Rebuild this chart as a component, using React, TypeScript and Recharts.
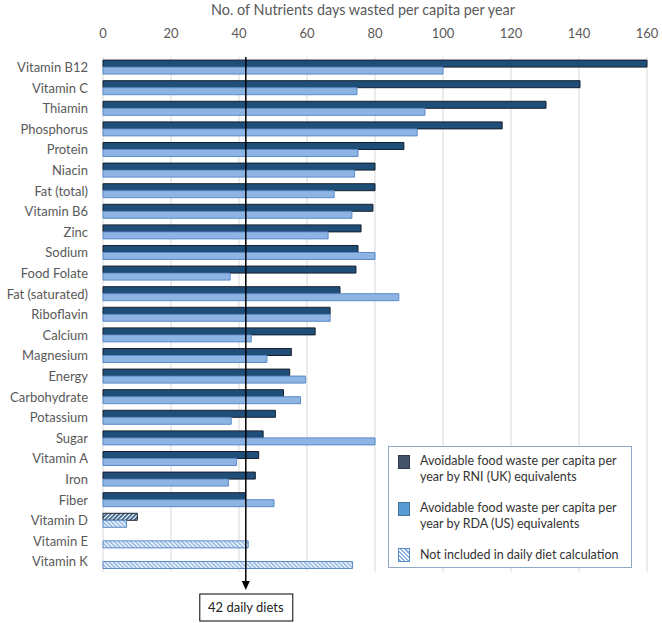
// App.tsx
// Horizontal bar chart: nutrient days wasted per capita per year (RNI vs RDA)

import {
  BarChart,
  Bar,
  XAxis,
  YAxis,
  CartesianGrid,
  ReferenceLine,
  Cell,
} from 'recharts'

// =============================================================================
// Data
// =============================================================================

const nutrients = [
  'Vitamin B12', 'Vitamin C', 'Thiamin', 'Phosphorus', 'Protein', 'Niacin',
  'Fat (total)', 'Vitamin B6', 'Zinc', 'Sodium', 'Food Folate', 'Fat (saturated)',
  'Riboflavin', 'Calcium', 'Magnesium', 'Energy', 'Carbohydrate', 'Potassium',
  'Sugar', 'Vitamin A', 'Iron', 'Fiber', 'Vitamin D', 'Vitamin E', 'Vitamin K',
]

// RNI (UK) equivalents – dark bars
const rniDays = [
  160, 140.3, 130.3, 117.4, 88.5, 80, 80, 79.4, 75.9, 75, 74.4, 69.7,
  66.8, 62.4, 55.4, 54.9, 53.1, 50.7, 47.1, 45.8, 44.8, 41.9, 10.1, null, null,
]

// RDA (US) equivalents – light bars
const rdaDays = [
  100, 74.7, 94.7, 92.4, 75, 74, 68, 73.2, 66.2, 80, 37.4, 87,
  66.8, 43.6, 48.2, 59.6, 58.1, 37.7, 80, 39.3, 36.9, 50.3, 6.9, 42.7, 73.4,
]

// Not included in the daily diet calculation (hatched)
const notIncluded = ['Vitamin D', 'Vitamin E', 'Vitamin K']

const xTicks = [0, 20, 40, 60, 80, 100, 120, 140, 160]
const dailyDiets = 42

// =============================================================================
// Constants
// =============================================================================

const DARK = '#1f4e79'
const DARK_STROKE = '#17202e'
const LIGHT = '#8db4e2'
const LIGHT_STROKE = '#5b8ac8'
const TEXT = '#595959'
const FONT = 'Lato, "Open Sans", sans-serif'

const data = nutrients.map((name, i) => ({
  name,
  rni: rniDays[i],
  rda: rdaDays[i],
  hatched: notIncluded.includes(name),
}))

// =============================================================================
// Sub-Components
// =============================================================================

function DietLine(props: any) {
  const { x1, y1, y2 } = props
  const top = Math.min(y1, y2)
  const tip = 590
  return (
    <g>
      <line x1={x1} y1={top} x2={x1} y2={tip - 6} stroke="#000" strokeWidth={1.5} />
      <polygon points={`${x1 - 4},${tip - 9} ${x1 + 4},${tip - 9} ${x1},${tip}`} fill="#000" />
      <rect x={x1 - 46} y={594} width={93} height={27} fill="#fff" stroke="#000" strokeWidth={1} />
      <text x={x1} y={612} textAnchor="middle" fontSize={13} fill="#222" fontFamily={FONT}>
        {dailyDiets} daily diets
      </text>
    </g>
  )
}

function LegendBox() {
  const marker = (bg: string, border: string): React.CSSProperties => ({
    position: 'absolute',
    left: 9,
    width: 12,
    height: 14,
    background: bg,
    border: `1px solid ${border}`,
    boxSizing: 'border-box',
  })
  const label: React.CSSProperties = {
    position: 'absolute',
    left: 31,
    fontSize: 12.5,
    lineHeight: '16px',
    color: '#333',
    whiteSpace: 'nowrap',
  }
  return (
    <div
      style={{
        position: 'absolute',
        left: 388,
        top: 446,
        width: 244,
        height: 122,
        border: '1px solid #8ea8c8',
        background: '#fff',
        boxSizing: 'border-box',
        fontFamily: FONT,
      }}
    >
      <div style={{ ...marker('#44546a', '#2f3b4c'), top: 8 }} />
      <div style={{ ...label, top: 6 }}>
        Avoidable food waste per capita per<br />year by RNI (UK) equivalents
      </div>
      <div style={{ ...marker('#5b9bd5', '#41719c'), top: 55 }} />
      <div style={{ ...label, top: 53 }}>
        Avoidable food waste per capita per<br />year by RDA (US) equivalents
      </div>
      <div
        style={{
          ...marker('', '#5b8ac8'),
          top: 101,
          background:
            'repeating-linear-gradient(45deg, #8db4e2 0px, #8db4e2 1.5px, #ffffff 1.5px, #ffffff 3px)',
        }}
      />
      <div style={{ ...label, top: 100 }}>Not included in daily diet calculation</div>
    </div>
  )
}

// =============================================================================
// Main Component
// =============================================================================

export default function App() {
  return (
    <div
      style={{
        position: 'absolute',
        left: 0,
        top: 0,
        width: 662,
        height: 623,
        background: '#fff',
        fontFamily: FONT,
      }}
    >
      <div
        style={{
          position: 'absolute',
          left: 0,
          width: 726,
          top: 1,
          textAlign: 'center',
          fontSize: 14.4,
          color: TEXT,
        }}
      >
        No. of Nutrients days wasted per capita per year
      </div>
      <BarChart
        width={662}
        height={623}
        data={data}
        layout="vertical"
        margin={{ top: 20, right: 15, left: 0, bottom: 51 }}
        barCategoryGap="15%"
        barGap={0}
      >
        <defs>
          <pattern id="hatchDark" patternUnits="userSpaceOnUse" width="3" height="3" patternTransform="rotate(45)">
            <rect width="3" height="3" fill="#ffffff" />
            <rect width="1.6" height="3" fill={DARK} />
          </pattern>
          <pattern id="hatchLight" patternUnits="userSpaceOnUse" width="3" height="3" patternTransform="rotate(-45)">
            <rect width="3" height="3" fill="#ffffff" />
            <rect width="1.6" height="3" fill={LIGHT} />
          </pattern>
        </defs>
        <CartesianGrid horizontal={false} stroke="#d9d9d9" />
        <XAxis
          type="number"
          orientation="top"
          domain={[0, 160]}
          ticks={xTicks}
          height={37}
          axisLine={false}
          tickLine={false}
          tickSize={0}
          tickMargin={19}
          tick={{ fill: TEXT, fontSize: 13 }}
        />
        <YAxis
          type="category"
          dataKey="name"
          width={103}
          axisLine={false}
          tickLine={false}
          tickSize={0}
          tickMargin={15}
          interval={0}
          tick={{ fill: TEXT, fontSize: 13 }}
        />
        <Bar dataKey="rni" isAnimationActive={false} strokeWidth={1}>
          {data.map((d, i) => (
            <Cell key={`rni-${i}`} fill={d.hatched ? 'url(#hatchDark)' : DARK} stroke={DARK_STROKE} />
          ))}
        </Bar>
        <Bar dataKey="rda" isAnimationActive={false} strokeWidth={1}>
          {data.map((d, i) => (
            <Cell key={`rda-${i}`} fill={d.hatched ? 'url(#hatchLight)' : LIGHT} stroke={LIGHT_STROKE} />
          ))}
        </Bar>
        <ReferenceLine x={dailyDiets} shape={(p: any) => <DietLine {...p} />} />
      </BarChart>
      <LegendBox />
    </div>
  )
}
